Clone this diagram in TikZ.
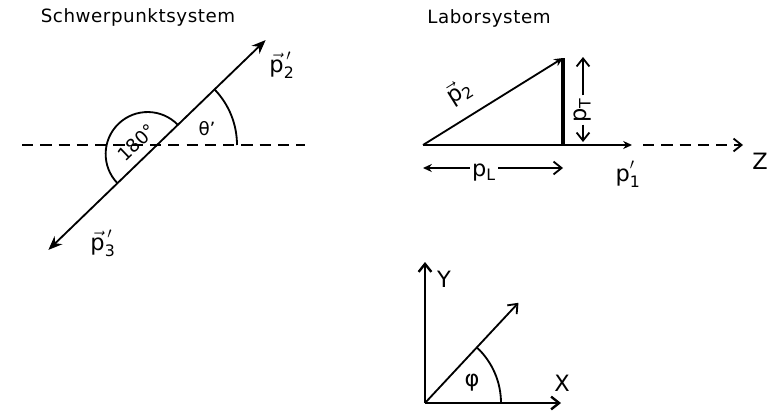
\documentclass[tikz,border=0pt]{standalone}
\usepackage{fontspec}
\setmainfont{DejaVu Sans}
\usetikzlibrary{arrows.meta, positioning, calc}
\tikzset{
  every picture/.style={line width=1.3pt},
  title/.style={font=\fontsize{13}{15}\selectfont\addfontfeature{LetterSpace=3}},
  lbl/.style={font=\fontsize{16}{18}\selectfont, inner sep=1pt},
  small/.style={font=\fontsize{13}{15}\selectfont, inner sep=1pt},
  vect/.style={-{Stealth[length=3.5mm, width=2.8mm]}},
  tip/.style={-{Stealth[length=2.2mm, width=2mm]}},
  barb/.style={-{Straight Barb[length=2mm, width=3.2mm]}},
  axis/.style={dash pattern=on 8pt off 5pt},
}

\begin{document}
\begin{tikzpicture}[x=0.025cm, y=0.025cm]
  \useasboundingbox (0,0) rectangle (779,417);
  \coordinate (cm) at (157,272);
  \coordinate (dl) at (22,272);
  \coordinate (dr) at (305,272);
  \coordinate (p2tip) at ($(cm)+(44:151)$);
  \coordinate (p3tip) at ($(cm)+(224:151)$);
  \coordinate (hc) at ($(cm)+(224:13)$);
  \node[title] (cms) at (138,400) {Schwerpunktsystem};
  \draw[axis] (dl) -- (dr);
  \draw[vect] (cm) -- (p2tip);
  \draw[vect] (cm) -- (p3tip);
  \draw ($(cm)+(80,0)$) arc (0:44:80);
  \draw ($(hc)+(44:42)$) arc (44:224:42);
  \node[small, rotate=44] (half) at ($(hc)+(134:16)$) {180°};
  \node[small] (theta) at (207,288) {θ'};
  \node[lbl] (p2cm) at (282,352) {$\vec{\mathrm{p}}_{\mathrm{2}}^{\,\prime}$};
  \node[lbl] (p3cm) at (103,174) {$\vec{\mathrm{p}}_{\mathrm{3}}^{\,\prime}$};

  \coordinate (A) at (423,272);
  \coordinate (B) at (563,359);
  \coordinate (F) at (563,272);
  \coordinate (P1) at (632,272);
  \coordinate (zs) at (643,272);
  \coordinate (ze) at (743,272);
  \node[title] (lab) at (489,399) {Laborsystem};
  \draw[tip] (A) -- (B);
  \draw[line width=2.2pt] (B) -- (F);
  \draw[tip] (A) -- (P1);
  \draw[axis, barb] (zs) -- (ze);
  \node[lbl] (z) at (760,256) {Z};
  \node[lbl, rotate=32] (p2lab) at (459,325) {$\vec{\mathrm{p}}_{\mathrm{2}}$};
  \node[lbl] (p1lab) at (628,243) {$\mathrm{p}_{\mathrm{1}}'$};
  \node[lbl, rotate=90] (pT) at (583,307) {p$_{\mathrm{T}}$};
  \coordinate (pTtop) at (583,360);
  \coordinate (pTbot) at (583,275);
  \draw[barb] (pT) -- (pTtop);
  \draw[barb] (pT) -- (pTbot);
  \node[lbl] (pL) at (484,244) {p$_{\mathrm{L}}$};
  \coordinate (pLl) at (423,249);
  \coordinate (pLr) at (563,249);
  \draw[tip] (pL.west |- pLl) -- (pLl);
  \draw[barb] (pL.east |- pLr) -- (pLr);

  \coordinate (Q) at (425,14);
  \coordinate (Ytip) at (425,155);
  \coordinate (Xtip) at (561,14);
  \coordinate (Dtip) at ($(Q)+(47:137)$);
  \draw[barb, line width=1.7pt] (Q) -- (Ytip);
  \draw[barb, line width=1.7pt] (Q) -- (Xtip);
  \draw[barb] (Q) -- (Dtip);
  \draw ($(Q)+(76,0)$) arc (0:47:76);
  \node[lbl] (Y) at (444,138) {Y};
  \node[lbl] (X) at (562,34) {X};
  \node[lbl] (phi) at (472,34) {φ};
\end{tikzpicture}
\end{document}
